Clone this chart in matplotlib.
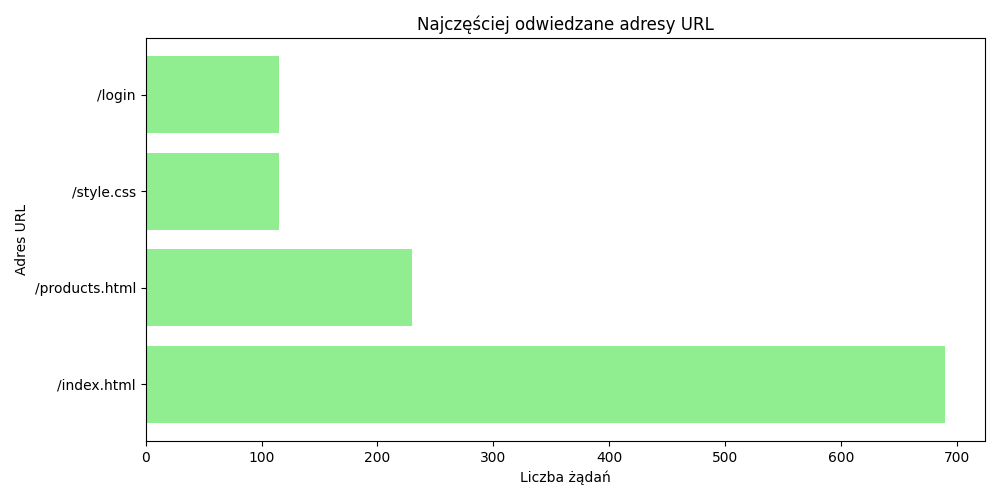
import matplotlib
matplotlib.use("Agg")
import matplotlib.pyplot as plt

urls = ["/index.html", "/products.html", "/style.css", "/login"]
counts = [690, 230, 115, 115]

fig, ax = plt.subplots(figsize=(10, 5), dpi=100)
ax.barh(urls, counts, color="lightgreen")
ax.set_title("Najczęściej odwiedzane adresy URL")
ax.set_xlabel("Liczba żądań")
ax.set_ylabel("Adres URL")
fig.tight_layout()
fig.savefig("out.png")
